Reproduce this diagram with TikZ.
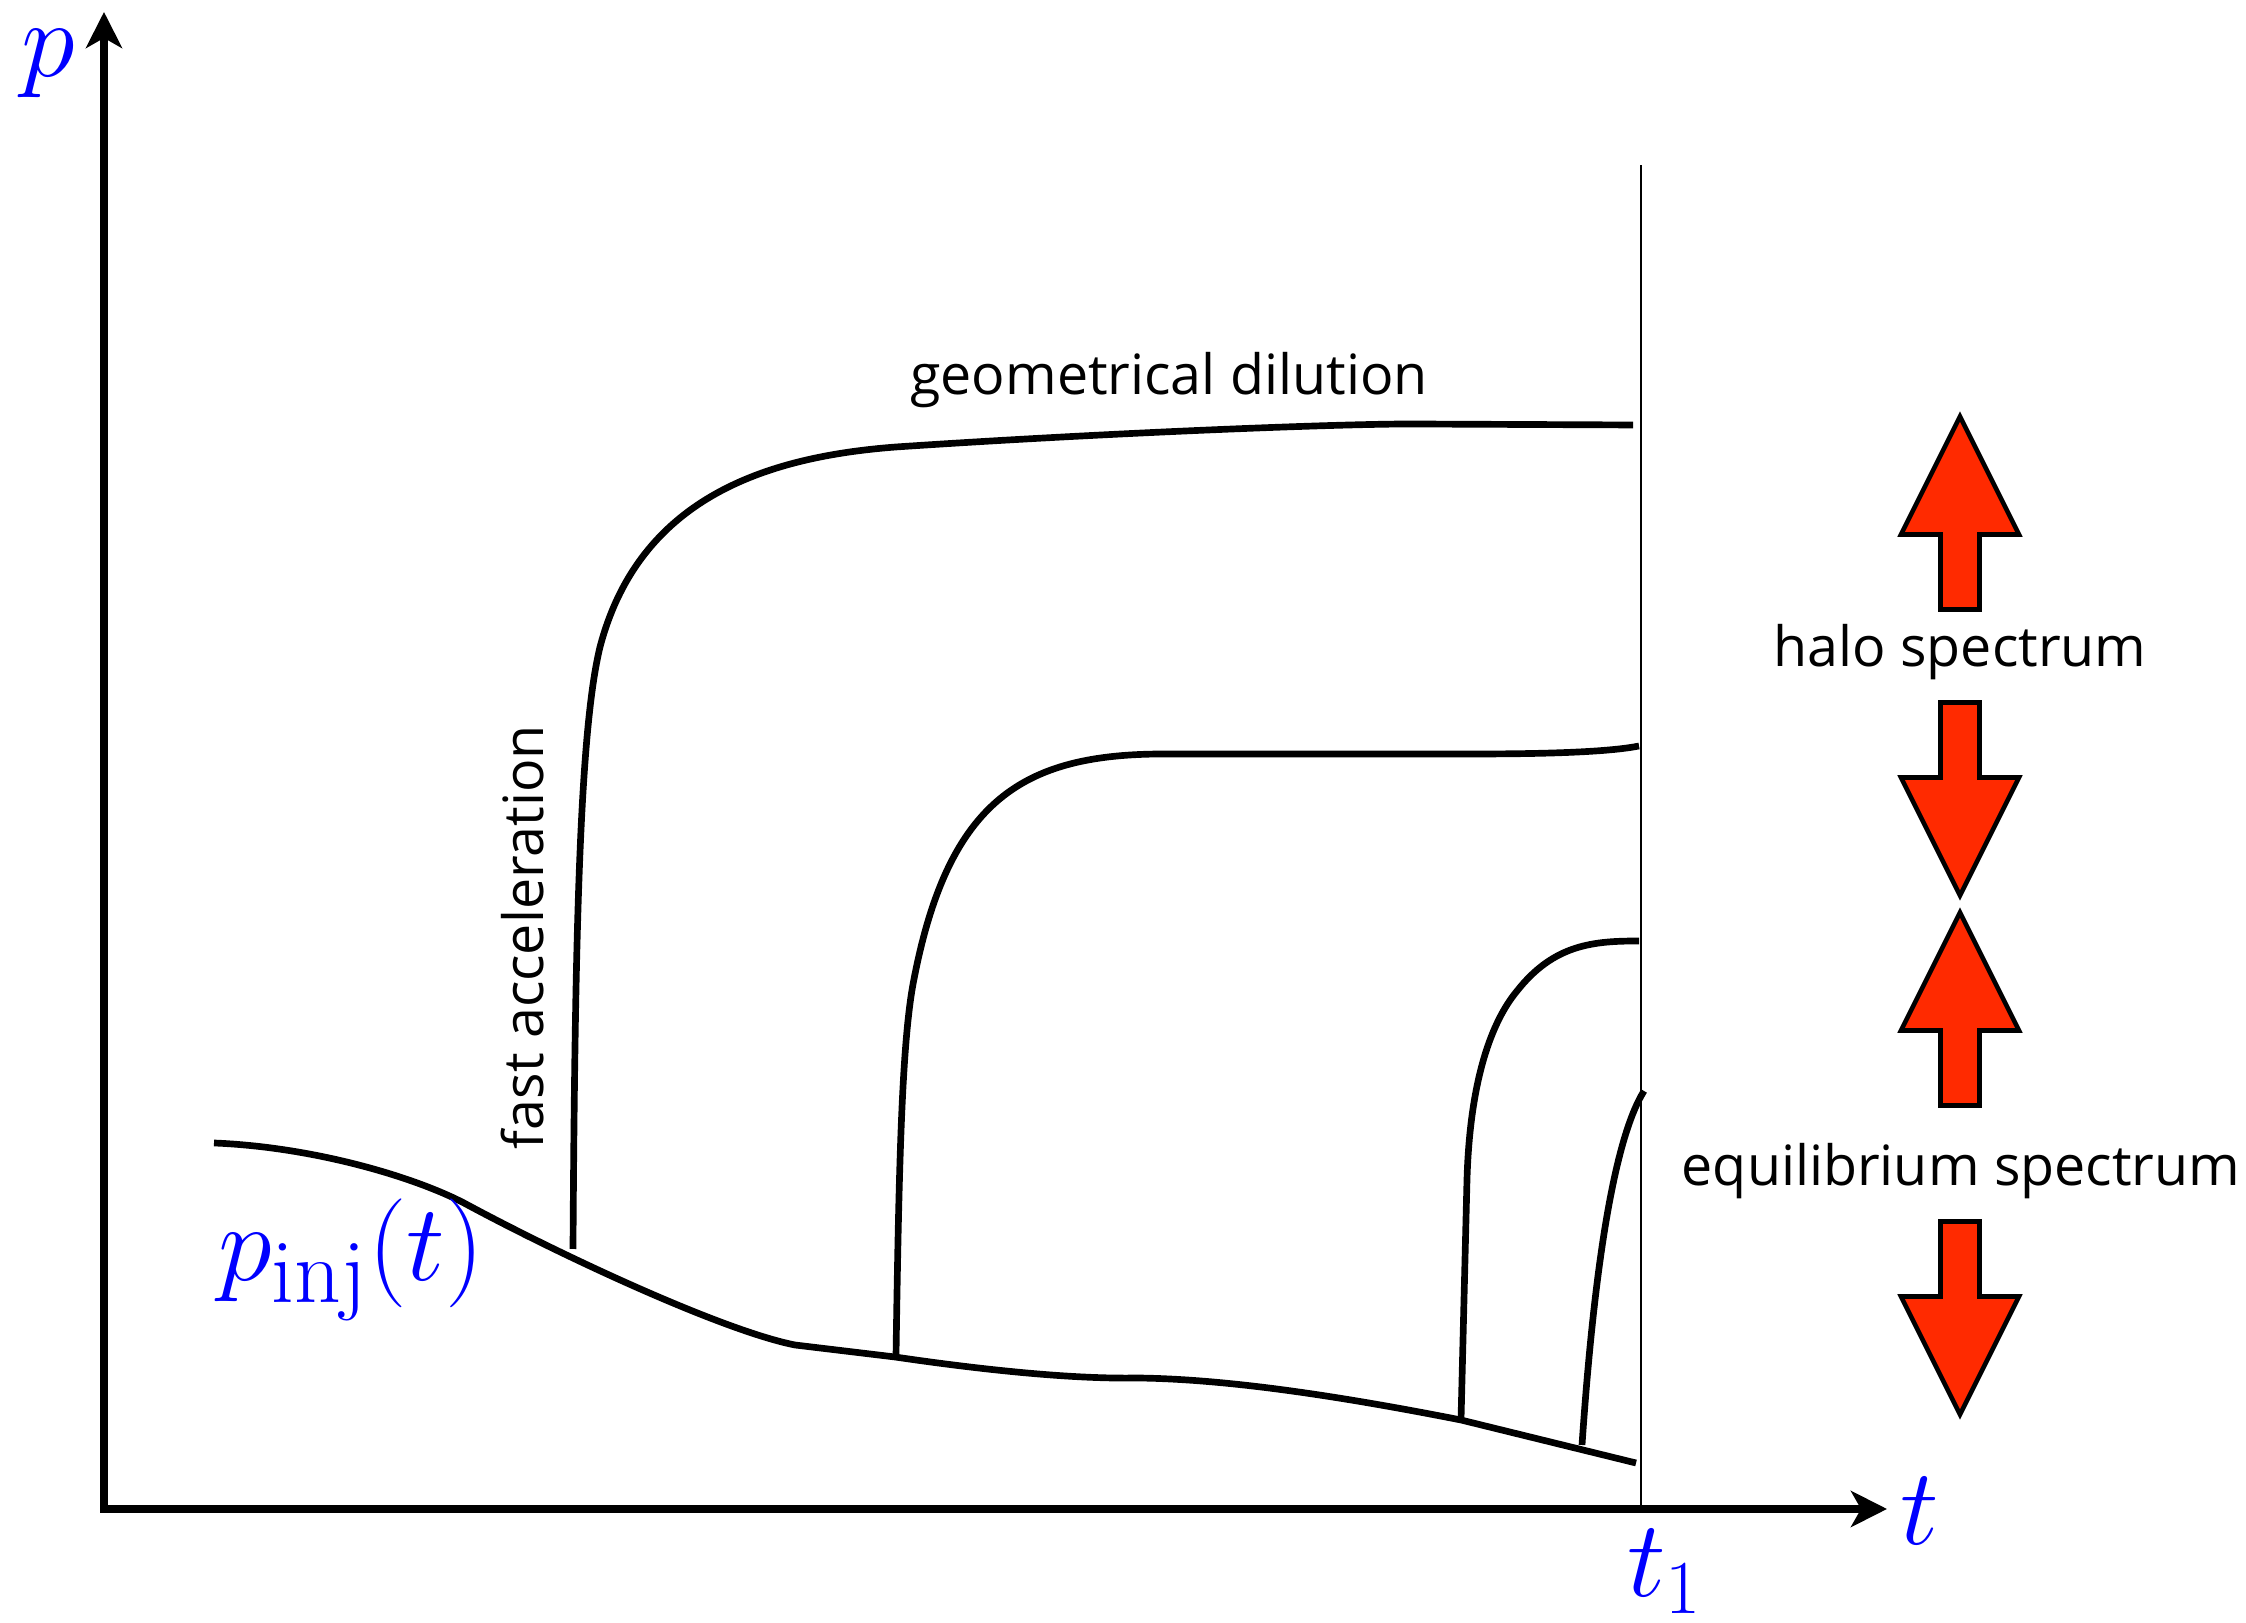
\RequirePackage{fix-cm}
\documentclass[tikz,border=0pt]{standalone}
\usepackage{fontspec}
\setsansfont{Open Sans}
\usetikzlibrary{arrows.meta}
\definecolor{labelblue}{HTML}{0000FF}
\definecolor{specred}{HTML}{FF2A00}

\begin{document}
\begin{tikzpicture}[
  axis/.style={line width=2.3pt,{Stealth[length=0.36cm,width=0.36cm,inset=0.1cm]}-{Stealth[length=0.36cm,width=0.36cm,inset=0.1cm]}},
  curve/.style={line width=1.9pt},
  mathlabel/.style={labelblue,font=\fontsize{31}{37}\selectfont,inner sep=0pt},
  textlabel/.style={font=\sffamily\fontsize{15.8}{19}\selectfont},
  specarrow/.style={draw=black,line width=1.3pt,fill=specred,line join=miter}
]
  \useasboundingbox (-1.04,-1.14) rectangle (21.42,15.09);

  % axes
  \coordinate (O) at (0,0);
  \coordinate (ptip) at (0,14.97);
  \coordinate (ttip) at (17.83,0);
  \draw[axis] (ptip) -- (O) -- (ttip);
  \node[mathlabel,anchor=base] (plab) at (-0.56,14.32) {$p$};
  \node[mathlabel,anchor=base] (tlab) at (18.16,-0.36) {$t$};

  % observation time t_1
  \coordinate (t1bot) at (15.37,0);
  \coordinate (t1top) at (15.37,13.44);
  \draw[line width=0.6pt] (t1bot) -- (t1top);
  \node[mathlabel,anchor=base] (t1lab) at (15.61,-0.88) {$t_1$};

  % injection momentum
  \draw[curve] (1.10,3.66) .. controls (2.1,3.62) and (3.1,3.32) .. (3.60,3.06)
    .. controls (4.6,2.52) and (6.2,1.78) .. (6.91,1.64) -- (7.91,1.52)
    .. controls (9.0,1.36) and (9.8,1.30) .. (10.33,1.31)
    .. controls (11.3,1.30) and (12.5,1.10) .. (13.57,0.89) -- (15.32,0.46);
  \node[mathlabel,anchor=base] (pinj) at (2.47,2.28) {$p_{\mbox{\fontsize{26}{30}\selectfont inj}}(t)$};

  % accelerated populations
  \draw[curve] (4.69,2.60) .. controls (4.71,5.8) and (4.76,7.8) .. (4.96,8.62)
    .. controls (5.35,10.1) and (6.6,10.52) .. (7.92,10.62)
    .. controls (10,10.76) and (12.3,10.85) .. (13.07,10.85) -- (15.29,10.84);
  \draw[curve] (7.92,1.53) .. controls (7.95,3.5) and (7.98,4.7) .. (8.10,5.30)
    .. controls (8.45,7.1) and (9.2,7.55) .. (10.60,7.55) -- (13.69,7.55)
    .. controls (14.6,7.55) and (15.1,7.58) .. (15.35,7.63);
  \draw[curve] (13.57,0.89) -- (13.63,3.30) .. controls (13.66,4.3) and (13.88,4.88) .. (14.13,5.18)
    .. controls (14.5,5.65) and (14.9,5.68) .. (15.35,5.68);
  \draw[curve] (14.78,0.64) .. controls (14.9,2.4) and (15.1,3.7) .. (15.40,4.18);

  \node[textlabel,anchor=base] (dilution) at (10.65,11.14) {geometrical dilution};
  \node[textlabel,anchor=base,rotate=90] (fastacc) at (4.39,5.72) {fast acceleration};

  % spectrum arrows
  \foreach \cy/\dir in {9.96/1,7.10/-1,5.00/1,1.91/-1}
    \draw[specarrow,shift={(18.56,\cy)},yscale=\dir]
      (0,0.965) -- (0.59,-0.215) -- (0.195,-0.215) -- (0.195,-0.965)
      -- (-0.195,-0.965) -- (-0.195,-0.215) -- (-0.59,-0.215) -- cycle;
  \node[textlabel,anchor=base] (halo) at (18.56,8.42) {halo spectrum};
  \node[textlabel,anchor=base] (equil) at (18.57,3.23) {equilibrium spectrum};
\end{tikzpicture}
\end{document}
